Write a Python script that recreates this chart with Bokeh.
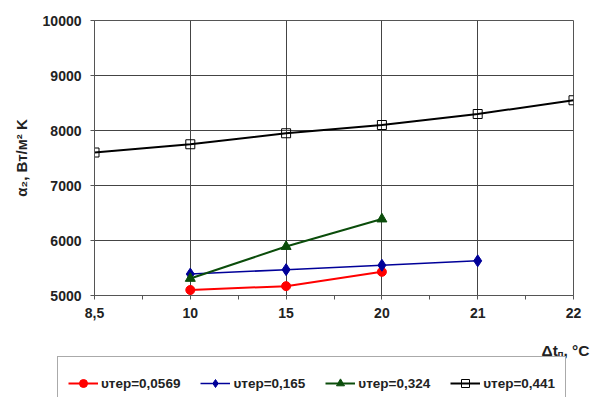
from bokeh.plotting import figure
from bokeh.models import Range1d, FixedTicker, Legend, LegendItem, Label
from bokeh.embed import file_html
from bokeh.resources import INLINE

# categories on x axis (equally spaced)
categories = ["8,5", "10", "15", "20", "21", "22"]

# series
s1_name = "υтер=0,0569"
s1_x = ["10", "15", "20"]
s1_y = [5100, 5170, 5430]

s2_name = "υтер=0,165"
s2_x = ["10", "15", "20", "21"]
s2_y = [5390, 5470, 5550, 5630]

s3_name = "υтер=0,324"
s3_x = ["10", "15", "20"]
s3_y = [5310, 5890, 6390]

s4_name = "υтер=0,441"
s4_x = ["8,5", "10", "15", "20", "21", "22"]
s4_y = [7600, 7750, 7950, 8100, 8300, 8550]

y_ticks = [5000, 6000, 7000, 8000, 9000, 10000]

styles = [
    dict(color="#ff0000", lw=2, marker="circle", size=9, fill=1),
    dict(color="#000099", lw=1.5, marker="diamond", size=12, fill=1),
    dict(color="#0b4d0b", lw=2, marker="triangle", size=10, fill=1),
    dict(color="#000000", lw=2, marker="square", size=9, fill=0),
]

def pos(xs):
    return [categories.index(c) for c in xs]

FONT = "Liberation Sans"
TXT = "#222222"
AX = "#555555"

p = figure(width=591, height=335, output_backend="svg", toolbar_location=None,
           x_range=Range1d(0, len(categories) - 1), y_range=Range1d(5000, 10000),
           min_border_left=94, min_border_right=18, min_border_top=20, min_border_bottom=40)
p.background_fill_color = "white"
p.border_fill_color = "white"
p.outline_line_color = AX
p.outline_line_width = 1

p.xaxis.ticker = FixedTicker(ticks=list(range(len(categories))),
                             minor_ticks=[i + 0.5 for i in range(len(categories) - 1)])
p.xaxis.major_label_overrides = {i: c for i, c in enumerate(categories)}
p.yaxis.ticker = FixedTicker(ticks=y_ticks)
for ax in (p.xaxis, p.yaxis):
    ax.axis_line_color = AX
    ax.major_tick_line_color = AX
    ax.minor_tick_line_color = AX
    ax.major_tick_in = 0
    ax.major_tick_out = 4
    ax.minor_tick_in = 0
    ax.minor_tick_out = 4
    ax.major_label_text_font = FONT
    ax.major_label_text_font_style = "bold"
    ax.major_label_text_font_size = "14px"
    ax.major_label_text_color = TXT
p.xaxis.major_label_standoff = 8
p.yaxis.major_label_standoff = 9
p.yaxis.minor_tick_line_color = None
p.yaxis.axis_label = "α₂, Вт/м² K"
p.yaxis.axis_label_text_font = FONT
p.yaxis.axis_label_text_font_style = "bold"
p.yaxis.axis_label_text_font_size = "15px"
p.yaxis.axis_label_text_color = TXT
p.yaxis.axis_label_standoff = 10

p.xgrid.ticker = FixedTicker(ticks=list(range(len(categories))))
p.ygrid.ticker = FixedTicker(ticks=y_ticks)
p.xgrid.grid_line_color = "#444444"
p.ygrid.grid_line_color = "#444444"

series = [(s1_name, s1_x, s1_y), (s2_name, s2_x, s2_y), (s3_name, s3_x, s3_y), (s4_name, s4_x, s4_y)]
for (name, xs, ys), st in zip(series, styles):
    p.line(pos(xs), ys, line_color=st["color"], line_width=st["lw"])
    p.scatter(pos(xs), ys, marker=st["marker"], size=st["size"], fill_color=st["color"],
              fill_alpha=st["fill"], line_color=st["color"], line_width=1)

# lower strip: x axis title and legend (separate root, full-canvas frame)
H2 = 62
p2 = figure(width=591, height=H2, output_backend="svg", toolbar_location=None,
            x_range=Range1d(0, 1), y_range=Range1d(0, 1),
            x_axis_location=None, y_axis_location=None,
            min_border_left=0, min_border_right=0, min_border_top=0, min_border_bottom=0)
p2.grid.visible = False
p2.outline_line_color = None
p2.background_fill_color = "white"
p2.border_fill_color = "white"

items = []
for (name, xs, ys), st in zip(series, styles):
    # legend proxies: one sample from each series, kept outside the visible range of this strip
    px = [-10 - categories.index(xs[0])]
    py = [ys[0]]
    rl = p2.line(px, py, line_color=st["color"], line_width=st["lw"])
    rm = p2.scatter(px, py, marker=st["marker"], size=st["size"], fill_color=st["color"],
                    fill_alpha=st["fill"], line_color=st["color"], line_width=1)
    items.append(LegendItem(label=name, renderers=[rl, rm]))

legend = Legend(items=items, orientation="horizontal", location=(57, H2 - 20 - 49))
legend.title = " "
legend.title_text_font_size = "6px"
legend.title_standoff = 0
legend.glyph_width = 30
legend.glyph_height = 20
legend.label_height = 20
legend.label_standoff = 3
legend.spacing = 20
legend.padding = 10
legend.margin = 0
legend.label_text_font = FONT
legend.label_text_font_style = "bold"
legend.label_text_font_size = "13.5px"
legend.label_text_color = TXT
legend.border_line_color = AX
legend.border_line_width = 1
legend.background_fill_color = "white"
legend.background_fill_alpha = 1
p2.add_layout(legend, "center")

lab_kw = dict(x_units="screen", y_units="screen", text_font=FONT, text_font_style="bold",
              text_color=TXT, text_baseline="alphabetic")
p2.add_layout(Label(x=541, y=H2 - 15, text="Δt", text_font_size="15.5px", **lab_kw))
p2.add_layout(Label(x=557, y=H2 - 19, text="п", text_font_size="10px", **lab_kw))
p2.add_layout(Label(x=563, y=H2 - 15, text=", °C", text_font_size="15.5px", **lab_kw))

open("out.html", "w").write(file_html([p, p2], INLINE))
